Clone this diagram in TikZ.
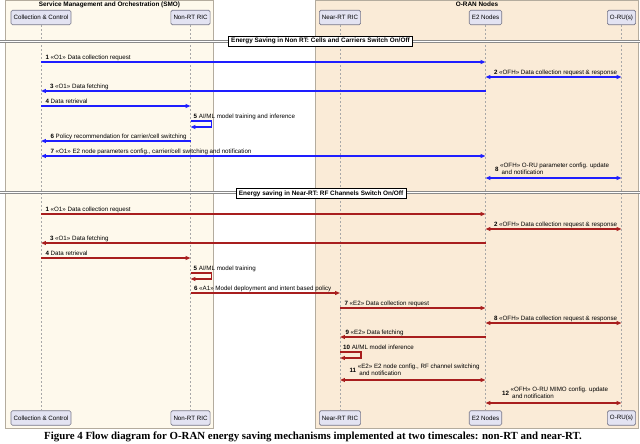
\documentclass[tikz,border=0pt]{standalone}
\usepackage{fontspec}
\setmainfont{Liberation Sans}
\newfontfamily\capfont{Liberation Serif}
\usetikzlibrary{arrows.meta}
\definecolor{smobg}{HTML}{FEF9EC}
\definecolor{ranbg}{HTML}{FAEBD7}
\definecolor{framec}{HTML}{B4AC9E}
\definecolor{partfill}{HTML}{E3E3F2}
\definecolor{partdraw}{HTML}{77778A}
\definecolor{mblue}{HTML}{1E1EFF}
\definecolor{mred}{HTML}{A81E1E}
\definecolor{lifec}{HTML}{A8A8A8}
\definecolor{divc}{HTML}{8A8A8A}
\begin{document}
\begin{tikzpicture}[x=1pt,y=-1pt,
  part/.style={draw=partdraw, fill=partfill, rounded corners=1.5pt, minimum height=14.5pt, inner xsep=2.6pt, inner ysep=0pt, font=\fontsize{6.2}{7}\selectfont, line width=0.6pt},
  life/.style={draw=lifec, dash pattern=on 2pt off 2pt, line width=0.5pt},
  frame/.style={draw=framec, line width=0.8pt},
  ftitle/.style={inner sep=0pt, font=\bfseries\fontsize{6.4}{7}\selectfont},
  bl/.style={color=mblue},
  rd/.style={color=mred},
  fwd/.style={line width=1.1pt, -{Triangle[length=4.8pt,width=3.8pt]}},
  bwd/.style={line width=1.1pt, {Triangle[length=4.8pt,width=3.8pt]}-},
  both/.style={line width=1.1pt, {Triangle[length=4.8pt,width=3.8pt]}-{Triangle[length=4.8pt,width=3.8pt]}},
  lbl/.style={anchor=base west, inner sep=0pt, text=black, font=\fontsize{6.2}{8}\selectfont},
  lblm/.style={anchor=west, inner sep=0pt, text=black, font=\fontsize{6.2}{8}\selectfont},
  divline/.style={draw=divc, double=white, double distance=1.2pt, line width=0.7pt},
  div/.style={draw=black, fill=white, font=\bfseries\fontsize{6.4}{7}\selectfont, inner xsep=3pt, inner ysep=2pt, line width=0.6pt}
]
\useasboundingbox (0,0) rectangle (640,444);
\fill[white] (0,0) rectangle (640,444);
% frames
\filldraw[frame, fill=smobg] (5,0.5) rectangle (213,428);
\filldraw[frame, fill=ranbg] (315.5,0.5) rectangle (638.5,428);
\node[ftitle] (smot) at (109.5,4.5) {Service Management and Orchestration (SMO)};
\node[ftitle] (rant) at (477,4.5) {O-RAN Nodes};
% participants
\node[part] (cc) at (41,17.5) {Collection \& Control};
\node[part] (nrt) at (190.5,17.5) {Non-RT RIC};
\node[part] (near) at (340,17.5) {Near-RT RIC};
\node[part] (e2) at (485.5,17.5) {E2 Nodes};
\node[part] (oru) at (621.5,17.5) {O-RU(s)};
\node[part] (ccb) at (41,418) {Collection \& Control};
\node[part] (nrtb) at (190.5,418) {Non-RT RIC};
\node[part] (nearb) at (340,418) {Near-RT RIC};
\node[part] (e2b) at (485.5,418) {E2 Nodes};
\node[part] (orub) at (621.5,418) {O-RU(s)};
% lifelines
\foreach \a in {cc,nrt,near,e2,oru}{\draw[life] (\a.south) -- (\a b.north);}
% divider 1
\coordinate (d1l) at (0,41.5);
\coordinate (d1r) at (640,41.5);
\draw[divline] (d1l) -- (d1r);
\node[div] (d1) at (320.5,41.2) {Energy Saving in Non RT: Cells and Carriers Switch On/Off};
% blue messages
\draw[bl,fwd] (cc |- 0,62) node[lbl, xshift=4pt, yshift=2.5pt] (b1) {\textbf{1} «O1» Data collection request} -- (e2 |- 0,62);
\draw[bl,both] (e2 |- 0,77) node[lbl, xshift=8pt, yshift=2.5pt] (b2) {\textbf{2} «OFH» Data collection request \& response} -- (oru |- 0,77);
\draw[bl,bwd] (cc |- 0,91) node[lbl, xshift=8.5pt, yshift=2.5pt] (b3) {\textbf{3} «O1» Data fetching} -- (e2 |- 0,91);
\draw[bl,fwd] (cc |- 0,106) node[lbl, xshift=4pt, yshift=2.5pt] (b4) {\textbf{4} Data retrieval} -- (nrt |- 0,106);
\node[lbl] (b5) at ([xshift=3pt]nrt |- 0,118) {\textbf{5} AI/ML model training and inference};
\draw[bl,fwd] (nrt |- 0,121) -- ++(21,0) -- ++(0,6) -- (nrt |- 0,127);
\draw[bl,bwd] (cc |- 0,141) node[lbl, xshift=9pt, yshift=2.5pt] (b6) {\textbf{6} Policy recommendation for carrier/cell switching} -- (nrt |- 0,141);
\draw[bl,both] (cc |- 0,156) node[lbl, xshift=9pt, yshift=2.5pt] (b7) {\textbf{7} «O1» E2 node parameters config., carrier/cell switching and notification} -- (e2 |- 0,156);
\draw[bl,both] (e2 |- 0,178) node[lblm, xshift=9pt, yshift=8.5pt] (b8) {\textbf{8}\ \begin{tabular}{@{}l@{}}«OFH» O-RU parameter config. update\\[-0.5pt] \hspace{1.5pt}and notification\end{tabular}} -- (oru |- 0,178);
% divider 2
\coordinate (d2l) at (0,192.5);
\coordinate (d2r) at (640,192.5);
\draw[divline] (d2l) -- (d2r);
\node[div] (d2) at (321,193.5) {Energy saving in Near-RT: RF Channels Switch On/Off};
% red messages
\draw[rd,fwd] (cc |- 0,214) node[lbl, xshift=4pt, yshift=2.5pt] (r1) {\textbf{1} «O1» Data collection request} -- (e2 |- 0,214);
\draw[rd,both] (e2 |- 0,229) node[lbl, xshift=8pt, yshift=2.5pt] (r2) {\textbf{2} «OFH» Data collection request \& response} -- (oru |- 0,229);
\draw[rd,bwd] (cc |- 0,243) node[lbl, xshift=8.5pt, yshift=2.5pt] (r3) {\textbf{3} «O1» Data fetching} -- (e2 |- 0,243);
\draw[rd,fwd] (cc |- 0,258) node[lbl, xshift=4pt, yshift=2.5pt] (r4) {\textbf{4} Data retrieval} -- (nrt |- 0,258);
\node[lbl] (r5) at ([xshift=3pt]nrt |- 0,270) {\textbf{5} AI/ML model training};
\draw[rd,fwd] (nrt |- 0,273) -- ++(21,0) -- ++(0,6) -- (nrt |- 0,279);
\draw[rd,fwd] (nrt |- 0,293) node[lbl, xshift=3pt, yshift=2.5pt] (r6) {\textbf{6} «A1» Model deployment and intent based policy} -- (near |- 0,293);
\draw[rd,fwd] (near |- 0,308) node[lbl, xshift=4pt, yshift=2.5pt] (r7) {\textbf{7} «E2» Data collection request} -- (e2 |- 0,308);
\draw[rd,both] (e2 |- 0,323) node[lbl, xshift=8pt, yshift=2.5pt] (r8) {\textbf{8} «OFH» Data collection request \& response} -- (oru |- 0,323);
\draw[rd,bwd] (near |- 0,337) node[lbl, xshift=5pt, yshift=2.5pt] (r9) {\textbf{9} «E2» Data fetching} -- (e2 |- 0,337);
\node[lbl] (r10) at ([xshift=3pt]near |- 0,349) {\textbf{10} AI/ML model inference};
\draw[rd,fwd] (near |- 0,352) -- ++(21,0) -- ++(0,6) -- (near |- 0,358);
\draw[rd,both] (near |- 0,380) node[lblm, xshift=9pt, yshift=9.5pt] (r11) {\textbf{11}\ \begin{tabular}{@{}l@{}}«E2» E2 node config., RF channel switching\\[-0.5pt] \hspace{1.5pt}and notification\end{tabular}} -- (e2 |- 0,380);
\draw[rd,both] (e2 |- 0,403) node[lblm, xshift=16pt, yshift=9.5pt] (r12) {\textbf{12}\ \begin{tabular}{@{}l@{}}«OFH» O-RU MIMO config. update\\[-0.5pt] \hspace{1.5pt}and notification\end{tabular}} -- (oru |- 0,403);
% caption
\node[inner sep=0pt, font=\capfont\bfseries\fontsize{10.85}{12}\selectfont] (cap) at (313,437) {Figure 4 Flow diagram for O-RAN energy saving mechanisms implemented at two timescales: non-RT and near-RT.};
\end{tikzpicture}
\end{document}
